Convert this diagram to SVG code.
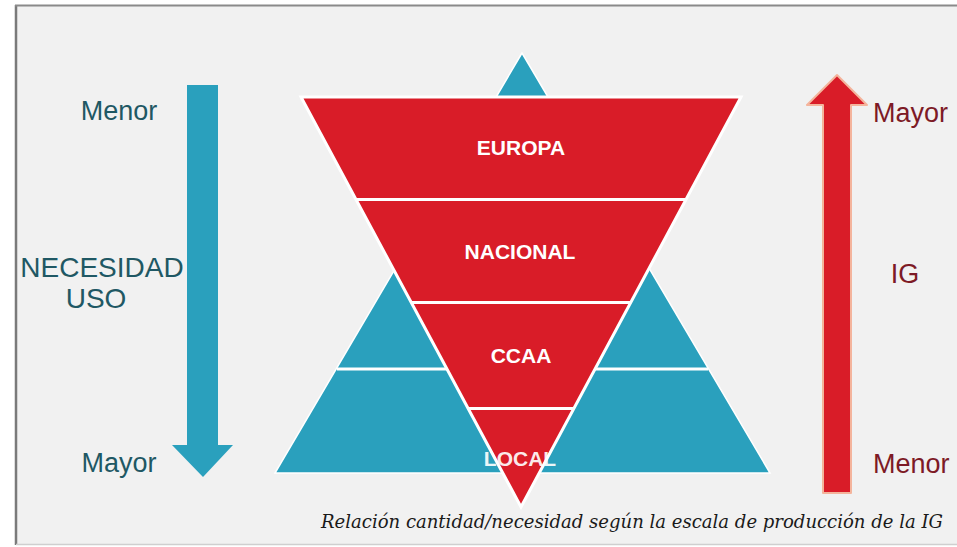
<svg xmlns="http://www.w3.org/2000/svg" width="957" height="547" viewBox="0 0 957 547">
<style>
.lbl{font-family:"Liberation Sans",Arial,sans-serif;font-weight:bold;fill:#ffffff;font-size:21px;text-anchor:middle}
.side{font-family:"Liberation Sans",Arial,sans-serif;font-size:27px}
.blue{fill:#1f5864}
.red{fill:#7d1a26}
.sep{stroke:#ffffff;stroke-width:3}
.cap{font-family:"DejaVu Serif","Liberation Serif",serif;font-style:italic;font-size:18px;fill:#1a1a1a}
</style>
<rect width="957" height="547" fill="#ffffff"/>
<g id="frame">
<rect x="16" y="5" width="945" height="539" fill="#f1f1f1"/>
<line x1="16" y1="5" x2="16" y2="545" stroke="#7a7a7a" stroke-width="2.5"/>
<line x1="15" y1="5.5" x2="957" y2="5.5" stroke="#8a8a8a" stroke-width="2"/>
<line x1="16" y1="544.5" x2="957" y2="544.5" stroke="#cfcfcf" stroke-width="1.5"/>
</g>
<g id="pyramid-blue">
<polygon points="522,53 275,473 770,473" fill="#2aa0bd" stroke="#ffffff" stroke-width="1.5"/>
<line class="sep" x1="337" y1="369" x2="708" y2="369"/>
</g>
<g id="pyramid-red">
<polygon points="301,97 741,97 521,507" fill="#d91c28" stroke="#ffffff" stroke-width="3" stroke-linejoin="miter"/>
<line class="sep" x1="356" y1="199.5" x2="686" y2="199.5"/>
<line class="sep" x1="411" y1="302.5" x2="631" y2="302.5"/>
<line class="sep" x1="468" y1="408.5" x2="574" y2="408.5"/>
</g>
<g id="europa"><text class="lbl" x="521" y="155">EUROPA</text></g>
<g id="nacional"><text class="lbl" x="520" y="259">NACIONAL</text></g>
<g id="ccaa"><text class="lbl" x="521" y="363">CCAA</text></g>
<g id="local"><text class="lbl" x="520" y="466" fill-opacity="0.92">LOCAL</text></g>
<g id="connectors">
<g id="arrow-necesidad">
<polygon points="187,85 218,85 218,445 233,445 203,477 172,445 187,445" fill="#2aa0bd"/>
</g>
<g id="arrow-ig">
<polygon points="823,493 851,493 851,105 867,105 837,75 807,105 823,105" fill="#d91c28" stroke="#f4b49c" stroke-width="2" stroke-linejoin="round"/>
</g>
</g>
<g id="labels-left">
<text class="side blue" x="119" y="120" text-anchor="middle">Menor</text>
<text class="side blue" x="102" y="277" text-anchor="middle" style="font-size:28px">NECESIDAD</text>
<text class="side blue" x="96" y="308" text-anchor="middle" style="font-size:28px">USO</text>
<text class="side blue" x="119" y="472" text-anchor="middle">Mayor</text>
</g>
<g id="labels-right">
<text class="side red" x="873" y="122">Mayor</text>
<text class="side red" x="905" y="283" text-anchor="middle">IG</text>
<text class="side red" x="873" y="473">Menor</text>
</g>
<g id="caption">
<text class="cap" x="321" y="528" textLength="622" lengthAdjust="spacingAndGlyphs">Relación cantidad/necesidad según la escala de producción de la IG</text>
</g>
</svg>
